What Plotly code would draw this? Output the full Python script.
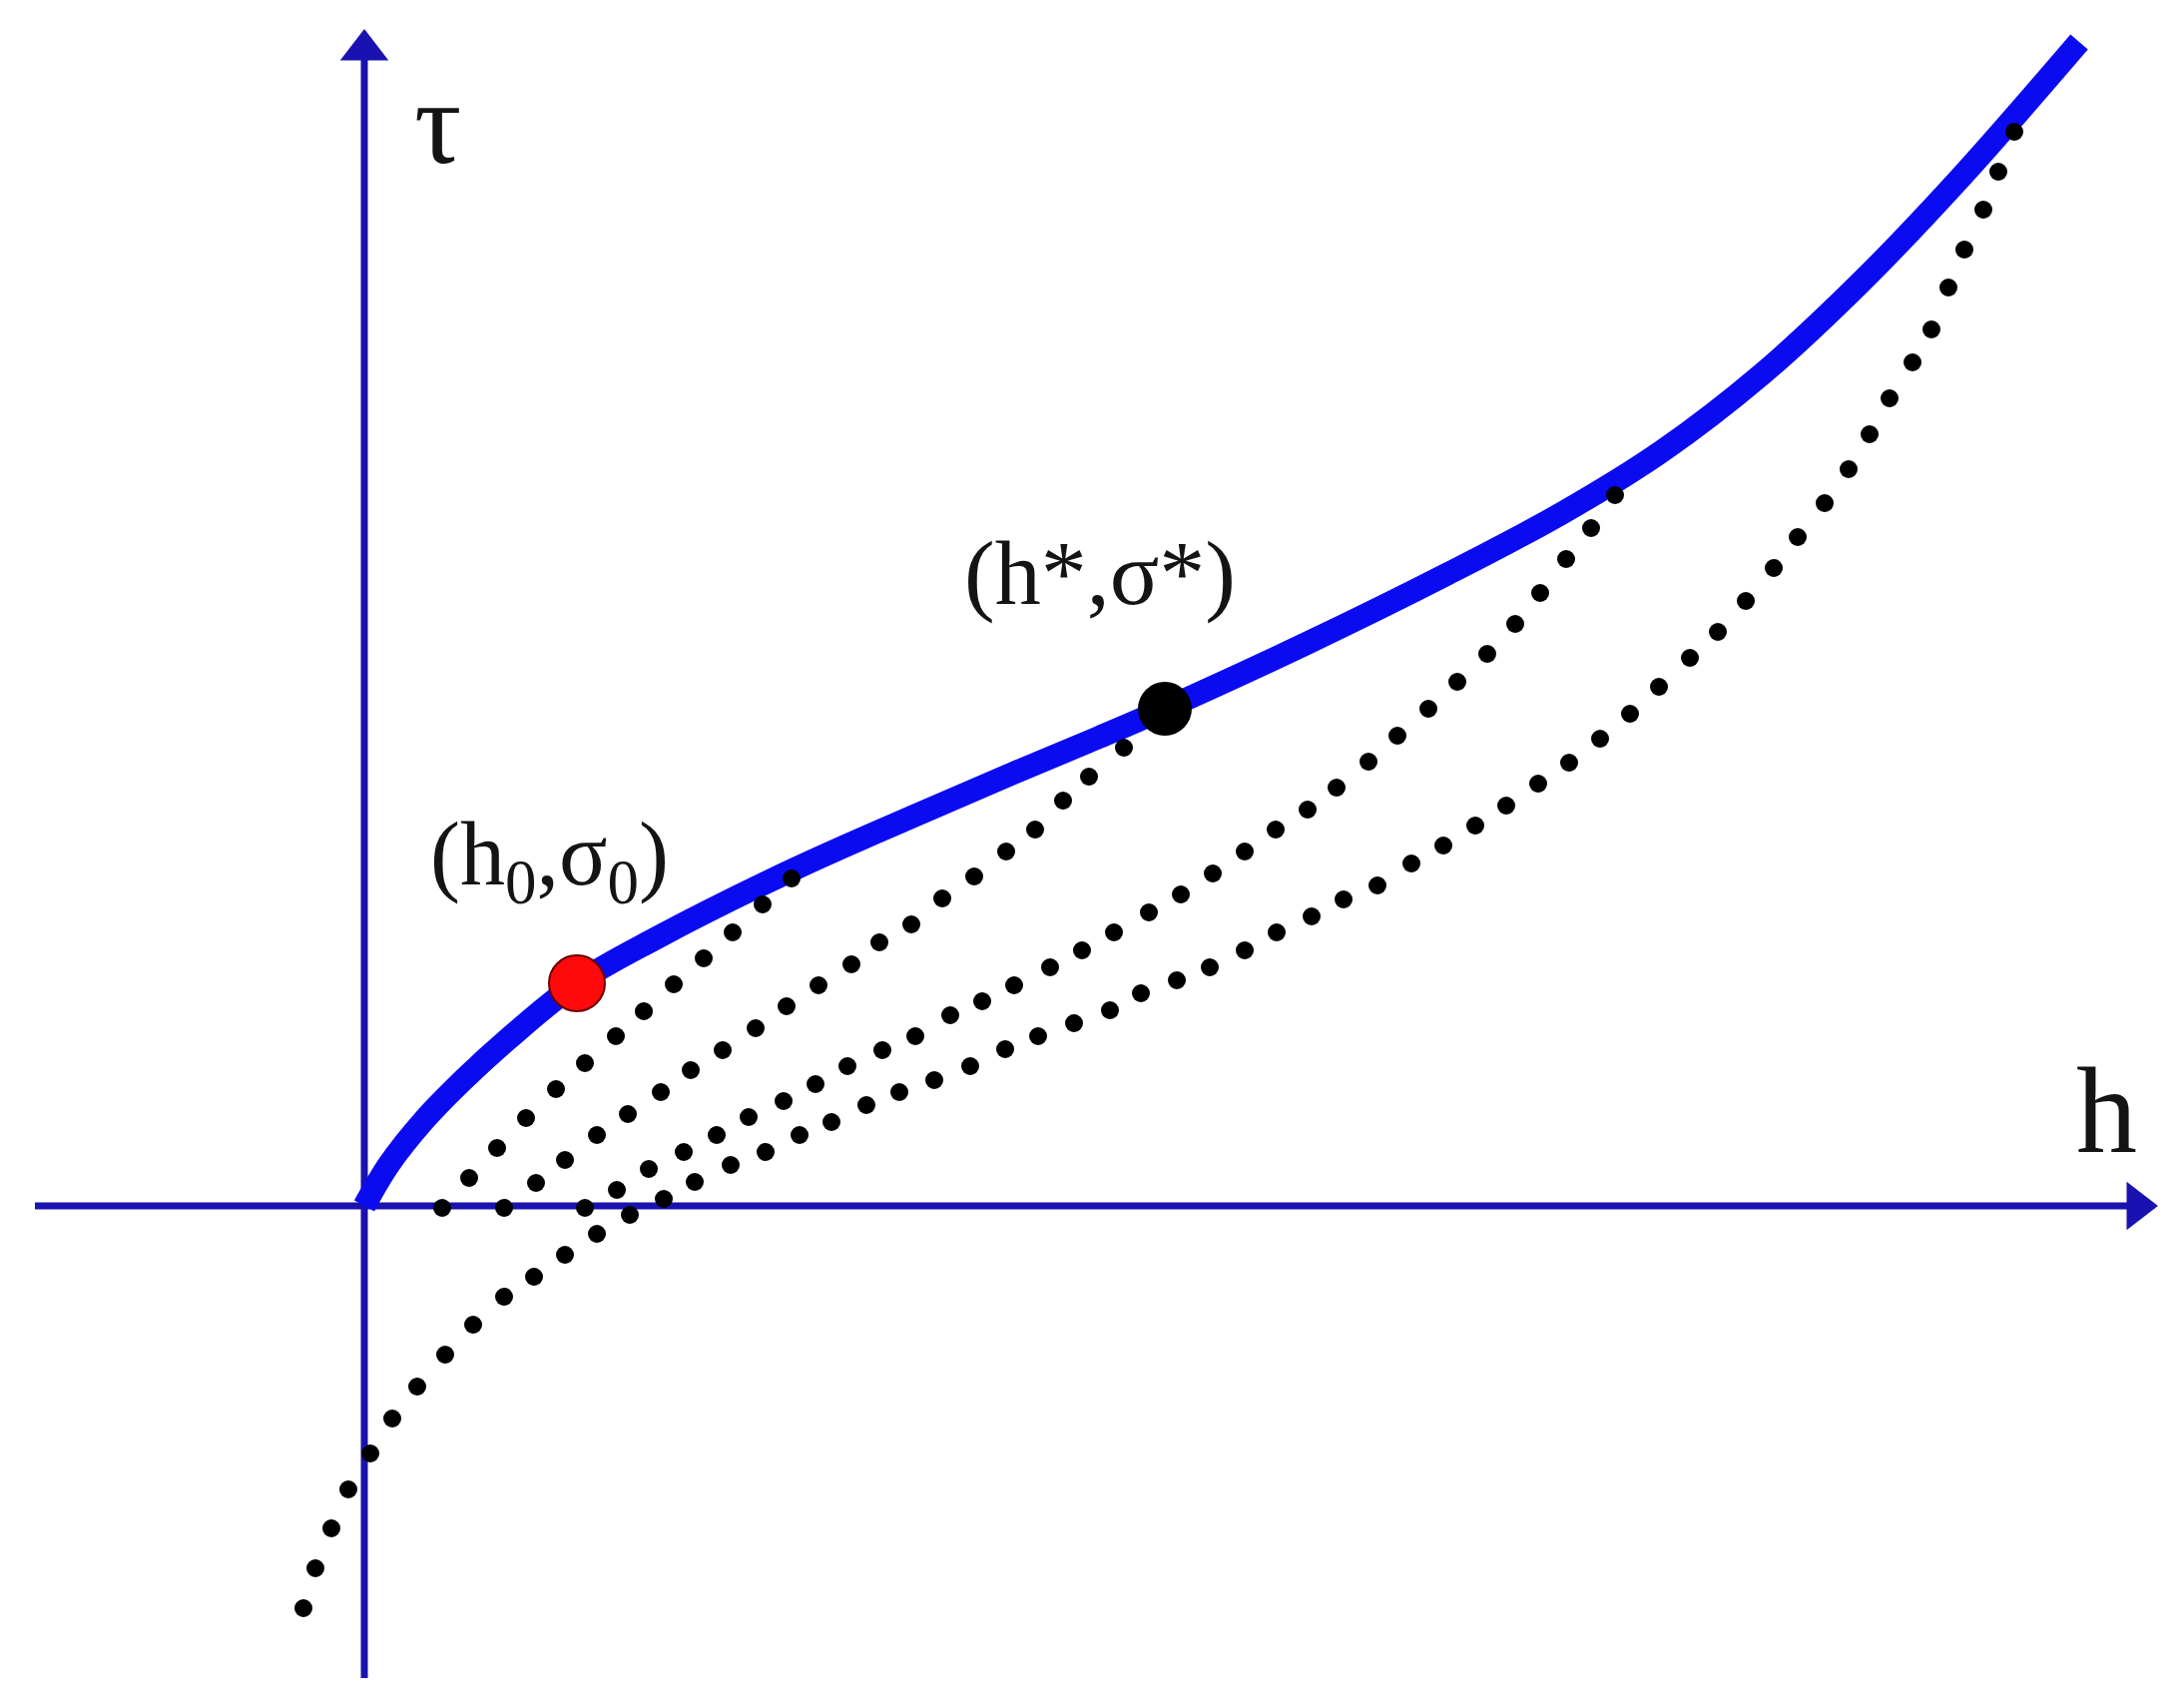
import plotly.graph_objects as go

_AXIS = "#1a12b0"
_CURVE = "#0b0bf2"
_TEXT = "#141414"
_FONT = "Liberation Serif, Times New Roman, serif"

# solid yield curve tau(h)
curve_h = [0.0, 0.25, 0.60, 1.00, 1.45, 2.13, 2.92, 4.28, 5.47, 6.49, 7.35, 8.02,
           9.43, 10.85, 12.00, 13.00, 14.00, 15.00, 16.00, 17.18]
curve_tau = [0.0, 0.42, 0.86, 1.27, 1.68, 2.23, 2.68, 3.36, 3.89, 4.33, 4.69, 4.98,
             5.63, 6.33, 6.94, 7.56, 8.33, 9.26, 10.31, 11.66]

# dotted curves, one dot per value
dots1_h = [0.78, 1.05, 1.33, 1.62, 1.92, 2.21, 2.52, 2.80, 3.10, 3.40, 3.69, 3.99, 4.28]
dots1_tau = [-0.02, 0.28, 0.58, 0.88, 1.17, 1.43, 1.70, 1.95, 2.22, 2.48, 2.74, 3.02, 3.28]

dots2_h = [1.40, 1.72, 2.01, 2.33, 2.64, 2.97, 3.27, 3.59, 3.92, 4.23, 4.55, 4.88, 5.16,
           5.48, 5.79, 6.11, 6.43, 6.72, 7.00, 7.26, 7.61]
dots2_tau = [-0.02, 0.23, 0.46, 0.71, 0.92, 1.14, 1.36, 1.56, 1.78, 2.00, 2.21, 2.42, 2.64,
             2.82, 3.08, 3.30, 3.55, 3.77, 4.06, 4.30, 4.59]

dots3_h = [2.21, 2.53, 2.85, 3.20, 3.53, 3.85, 4.20, 4.52, 4.84, 5.19, 5.52, 5.87, 6.19,
           6.51, 6.87, 7.19, 7.51, 7.86, 8.18, 8.50, 8.82, 9.13, 9.45, 9.74, 10.06, 10.35,
           10.66, 10.95, 11.25, 11.53, 11.78, 12.04, 12.29, 12.53]
dots3_tau = [-0.02, 0.16, 0.37, 0.54, 0.71, 0.89, 1.05, 1.22, 1.40, 1.56, 1.70, 1.91, 2.05,
             2.21, 2.39, 2.56, 2.74, 2.94, 3.12, 3.33, 3.55, 3.77, 3.97, 4.19, 4.45, 4.71,
             4.98, 5.25, 5.53, 5.83, 6.14, 6.48, 6.79, 7.12]

dots4_h = [-0.61, -0.49, -0.33, -0.16, 0.06, 0.28, 0.53, 0.81, 1.09, 1.40, 1.70, 2.01,
           2.33, 2.66, 3.00, 3.31, 3.67, 4.02, 4.36, 4.68, 5.03, 5.36, 5.71, 6.07, 6.42,
           6.75, 7.11, 7.47, 7.78, 8.14, 8.47, 8.82, 9.14, 9.49, 9.81, 10.15, 10.49, 10.81,
           11.13, 11.44, 11.76, 12.07, 12.38, 12.68, 12.97, 13.28, 13.56, 13.84, 14.12,
           14.36, 14.63, 14.87, 15.08, 15.28, 15.51, 15.70, 15.87, 16.03, 16.22, 16.37, 16.53]
dots4_tau = [-4.03, -3.63, -3.23, -2.84, -2.48, -2.13, -1.81, -1.49, -1.19, -0.91, -0.71,
             -0.49, -0.28, -0.09, 0.07, 0.24, 0.41, 0.54, 0.71, 0.84, 1.01, 1.14, 1.26, 1.40,
             1.57, 1.70, 1.83, 1.96, 2.13, 2.26, 2.39, 2.56, 2.74, 2.90, 3.07, 3.21, 3.43,
             3.61, 3.81, 4.01, 4.23, 4.44, 4.68, 4.93, 5.20, 5.49, 5.75, 6.06, 6.39, 6.70,
             7.04, 7.38, 7.73, 8.09, 8.45, 8.78, 9.20, 9.58, 9.98, 10.36, 10.76]

# marked points and their labels
start_point = (2.13, 2.23)
start_label = "(h<sub>0</sub>,σ<sub>0</sub>)"
start_label_pos = (1.85, 3.46)
star_point = (8.02, 4.98)
star_label = "(h*,σ*)"
star_label_pos = (7.37, 6.34)

# axes extent (data units)
h_axis = (-3.30, 17.97)
tau_axis = (-4.73, 11.79)
h_label_pos = (17.45, 0.96)
tau_label_pos = (0.73, 10.85)

fig = go.Figure()

fig.add_trace(go.Scatter(
    x=curve_h, y=curve_tau, mode="lines",
    line=dict(color=_CURVE, width=23, shape="spline", smoothing=1.0),
    hoverinfo="skip",
))
for hs, ts in [(dots1_h, dots1_tau), (dots2_h, dots2_tau),
               (dots3_h, dots3_tau), (dots4_h, dots4_tau)]:
    fig.add_trace(go.Scatter(
        x=hs, y=ts, mode="markers",
        marker=dict(color="#000000", size=18, line_width=0),
        hoverinfo="skip",
    ))
fig.add_trace(go.Scatter(
    x=[start_point[0]], y=[start_point[1]], mode="markers",
    marker=dict(color="#ff0a0a", size=56, line=dict(color="#6a0000", width=2)),
    hoverinfo="skip",
))
fig.add_trace(go.Scatter(
    x=[star_point[0]], y=[star_point[1]], mode="markers",
    marker=dict(color="#000000", size=54, line_width=0),
    hoverinfo="skip",
))

# axis lines under the marks
fig.add_shape(type="line", layer="below", x0=h_axis[0], x1=h_axis[1] - 0.2, y0=0, y1=0,
              line=dict(color=_AXIS, width=7))
fig.add_shape(type="line", layer="below", x0=0, x1=0, y0=tau_axis[0], y1=tau_axis[1] - 0.2,
              line=dict(color=_AXIS, width=7))
# arrow heads: triangle tip sits r px ahead of the marker centre (r = size / 2)
head_size = 42
head_off = head_size / 2 / 100
fig.add_trace(go.Scatter(
    x=[h_axis[1] - head_off], y=[0], mode="markers",
    marker=dict(symbol="triangle-right", size=head_size, color=_AXIS, line_width=0),
    hoverinfo="skip",
))
fig.add_trace(go.Scatter(
    x=[0], y=[tau_axis[1] - head_off], mode="markers",
    marker=dict(symbol="triangle-up", size=head_size, color=_AXIS, line_width=0),
    hoverinfo="skip",
))

for txt, pos, size in [("τ", tau_label_pos, 118), ("h", h_label_pos, 122),
                       (start_label, start_label_pos, 90), (star_label, star_label_pos, 92)]:
    fig.add_annotation(
        x=pos[0], y=pos[1], xref="x", yref="y", text=txt, showarrow=False,
        font=dict(family=_FONT, size=size, color=_TEXT),
        xanchor="center", yanchor="middle",
    )

fig.update_layout(
    width=2188, height=1708,
    margin=dict(l=0, r=0, t=0, b=0),
    paper_bgcolor="#ffffff", plot_bgcolor="#ffffff",
    showlegend=False,
    xaxis=dict(range=[-3.65, 18.23], visible=False, fixedrange=True),
    yaxis=dict(range=[-5.00, 12.08], visible=False, fixedrange=True),
)

fig.write_html(
    "out.html",
    config={"displayModeBar": False},
    post_script="document.body.style.margin='0';document.body.style.overflow='hidden';",
)
